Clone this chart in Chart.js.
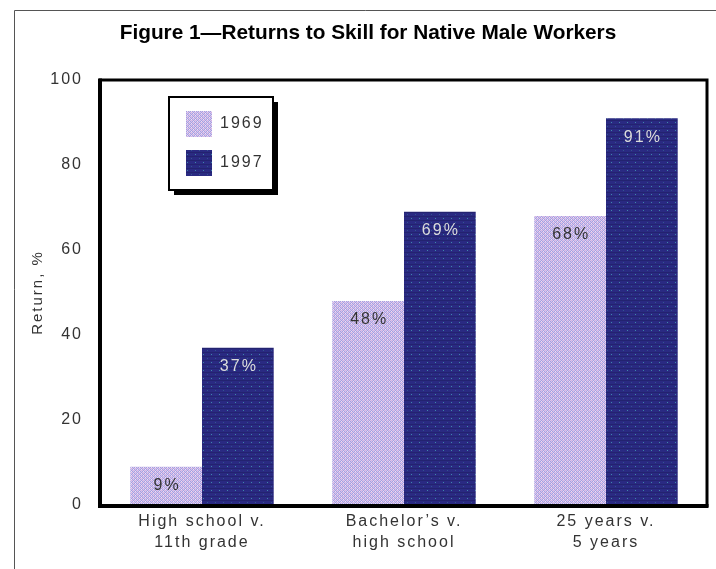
<!DOCTYPE html>
<html>
<head>
<meta charset="utf-8">
<script src="https://cdn.jsdelivr.net/npm/chart.js@4/dist/chart.umd.min.js"></script>
<style>
html,body{margin:0;padding:0;background:#fff;}
#wrap{width:716px;height:569px;position:relative;}
</style>
</head>
<body>
<div id="wrap"><canvas id="c" width="716" height="569"></canvas></div>
<script>
const titleText = "Figure 1\u2014Returns to Skill for Native Male Workers";
const categories = [["High school v.", "11th grade"], ["Bachelor\u2019s v.", "high school"], ["25 years v.", "5 years"]];
const seriesLabels = ["1969", "1997"];
const values1969 = [9, 48, 68];
const values1997 = [37, 69, 91];
const yTickValues = [0, 20, 40, 60, 80, 100];
const yAxisTitle = "Return, %";

function makePattern(kind) {
  const c = document.createElement('canvas');
  const ctx = c.getContext('2d');
  if (kind === 'light') {
    c.width = 4; c.height = 4;
    const cols = [
      ['#d4c8ee', '#a89ce0', '#d4c8ee', '#d8b0e0'],
      ['#a89ce0', '#e8e4f4', '#a89ce0', '#d4c8ee'],
      ['#d4c8ee', '#d8b0e0', '#d4c8ee', '#a89ce0'],
      ['#a89ce0', '#d4c8ee', '#a89ce0', '#e8e4f4']
    ];
    for (let y = 0; y < 4; y++) for (let x = 0; x < 4; x++) { ctx.fillStyle = cols[y][x]; ctx.fillRect(x, y, 1, 1); }
  } else {
    c.width = 8; c.height = 8;
    ctx.fillStyle = '#2a2a82'; ctx.fillRect(0, 0, 8, 8);
    ctx.fillStyle = '#23236f'; ctx.fillRect(0, 0, 8, 1); ctx.fillRect(0, 4, 8, 1);
    ctx.fillStyle = '#3f86a8'; ctx.fillRect(3, 2, 1, 1);
    ctx.fillStyle = '#34578f'; ctx.fillRect(7, 6, 1, 1);
  }
  return ctx.createPattern(c, 'repeat');
}
const fills = [makePattern('light'), makePattern('dark')];
const labelColors = ['#333333', '#dcdcdc'];

const spacingPlugin = {
  id: 'spacing',
  beforeUpdate(chart) { chart.ctx.letterSpacing = '2px'; },
  beforeDraw(chart) {
    const ctx = chart.ctx;
    ctx.letterSpacing = '2px';
    ctx.save();
    ctx.strokeStyle = '#555';
    ctx.lineWidth = 1;
    ctx.beginPath();
    ctx.moveTo(14.5, 569); ctx.lineTo(14.5, 10.5); ctx.lineTo(716, 10.5);
    ctx.stroke();
    ctx.restore();
  }
};

const decorPlugin = {
  id: 'decor',
  afterDatasetsDraw(chart) {
    const ctx = chart.ctx;
    ctx.save();
    ctx.font = '16px "Liberation Sans", Arial, sans-serif';
    ctx.textAlign = 'center';
    ctx.textBaseline = 'middle';
    chart.data.datasets.forEach((ds, di) => {
      const meta = chart.getDatasetMeta(di);
      meta.data.forEach((el, i) => {
        ctx.fillStyle = labelColors[di];
        ctx.fillText(ds.data[i] + '%', el.x + 1, el.y + 19);
      });
    });
    ctx.restore();
  },
  afterDraw(chart) {
    const ctx = chart.ctx;
    const a = chart.chartArea;
    ctx.save();
    ctx.strokeStyle = '#000';
    ctx.lineWidth = 3;
    ctx.strokeRect(a.left - 0.5, a.top, a.right - a.left + 0.5, a.bottom - a.top + 0.5);
    ctx.lineWidth = 4;
    ctx.beginPath();
    ctx.moveTo(a.left - 1, a.top - 1.5); ctx.lineTo(a.left - 1, a.bottom + 1); ctx.lineTo(a.right + 1.5, a.bottom + 1);
    ctx.stroke();
    ctx.letterSpacing = '0px';
    ctx.fillStyle = '#000';
    ctx.font = 'bold 20.8px "Liberation Sans", Arial, sans-serif';
    ctx.textAlign = 'center';
    ctx.textBaseline = 'middle';
    ctx.fillText(titleText, 368, 33);
    const lx = 169, ly = 97, lw = 104, lh = 93;
    ctx.fillStyle = '#000';
    ctx.fillRect(lx + 5, ly + 5, lw, lh);
    ctx.fillStyle = '#fff';
    ctx.fillRect(lx, ly, lw, lh);
    ctx.lineWidth = 2;
    ctx.strokeStyle = '#000';
    ctx.strokeRect(lx, ly, lw, lh);
    ctx.letterSpacing = '2px';
    ctx.font = '16px "Liberation Sans", Arial, sans-serif';
    ctx.textAlign = 'left';
    chart.data.datasets.forEach((ds, di) => {
      const sy = 111 + di * 39;
      ctx.fillStyle = ds.backgroundColor;
      ctx.fillRect(186, sy, 26, 26);
      ctx.fillStyle = '#333';
      ctx.fillText(ds.label, 220, sy + 13);
    });
    ctx.restore();
  }
};

const textFont = { family: '"Liberation Sans", Arial, sans-serif', size: 16 };

new Chart(document.getElementById('c'), {
  type: 'bar',
  data: {
    labels: categories,
    datasets: [
      { label: seriesLabels[0], data: values1969, backgroundColor: fills[0], borderWidth: 0 },
      { label: seriesLabels[1], data: values1997, backgroundColor: fills[1], borderWidth: 0 }
    ]
  },
  options: {
    responsive: false,
    animation: false,
    events: [],
    layout: { padding: { left: 29, right: 9, top: 80, bottom: 0 } },
    datasets: { bar: { categoryPercentage: 0.71, barPercentage: 1.0 } },
    plugins: { legend: { display: false }, title: { display: false }, tooltip: { enabled: false } },
    scales: {
      x: {
        grid: { display: false, drawTicks: false },
        border: { display: false },
        ticks: { font: { ...textFont, lineHeight: 1.3 }, color: '#333', padding: 6, maxRotation: 0, autoSkip: false },
        afterFit(s) { s.height = 64; }
      },
      y: {
        min: 0, max: 100,
        grid: { display: false, drawTicks: false },
        border: { display: false },
        afterBuildTicks(s) { s.ticks = yTickValues.map(v => ({ value: v })); },
        ticks: { font: textFont, color: '#333', padding: 18 },
        title: { display: true, text: yAxisTitle, font: { ...textFont, size: 15, lineHeight: 1.2 }, color: '#333', padding: 0 },
        afterFit(s) { s.width = 72; }
      }
    }
  },
  plugins: [spacingPlugin, decorPlugin]
});
</script>
</body>
</html>
